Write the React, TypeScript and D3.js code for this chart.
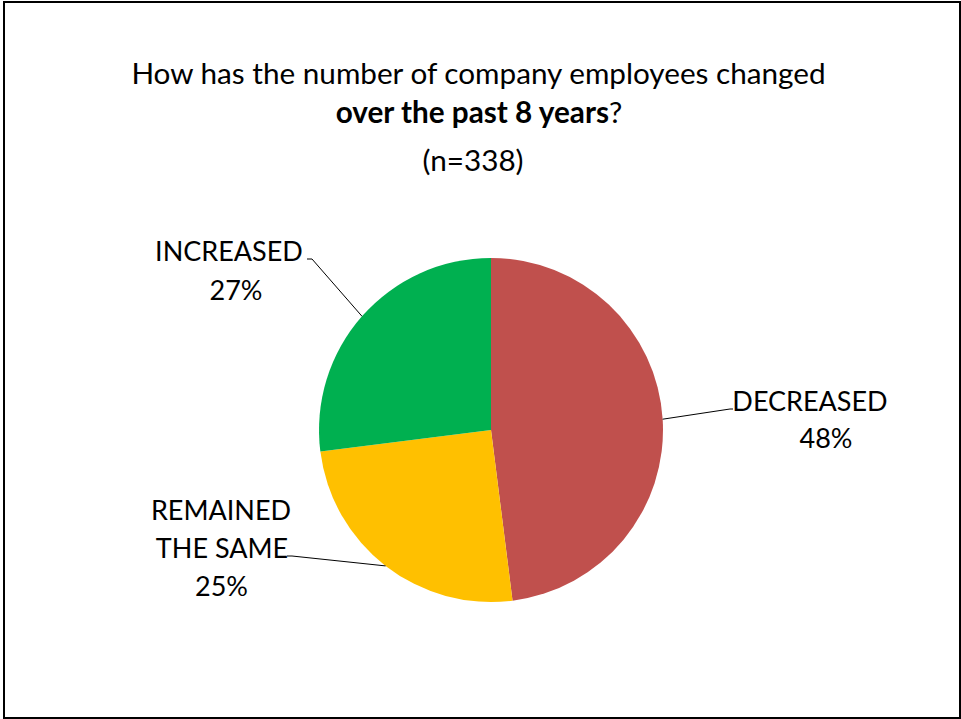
import React from "react";
import * as d3 from "d3";

const categories = ["DECREASED", "REMAINED THE SAME", "INCREASED"];
const values = [48, 25, 27];
const colors = ["#C0504D", "#FFC000", "#00B050"];
const labelLines = [["DECREASED", "48%"], ["REMAINED", "THE SAME", "25%"], ["INCREASED", "27%"]];

// layout (not data): label line anchors and leader elbows
const labelLayout = [
  { lines: [[810, 411], [826, 448]], elbow: [730, 409], end: [733, 409] },
  { lines: [[221, 520], [222, 558], [221.5, 596]], elbow: [292, 556], end: [287, 556] },
  { lines: [[229, 261], [236, 300]], elbow: [312, 259], end: [307, 259] },
];

const W = 961;
const H = 719;
const cx = 491;
const cy = 430;
const R = 172;
const FONT = "Lato, 'Open Sans', sans-serif";

export default function App() {
  const pie = d3.pie<number>().sort(null).value((d) => d).startAngle(0).endAngle(2 * Math.PI);
  const arcs = pie(values);
  const arc = d3.arc<d3.PieArcDatum<number>>().innerRadius(0).outerRadius(R);

  return (
    <svg
      width={W}
      height={H}
      style={{ position: "absolute", left: 0, top: 0, background: "#fff" }}
    >
      <rect x={0} y={0} width={W} height={H} fill="#fff" />
      <rect x={4} y={2} width={956} height={716} fill="none" stroke="#000" strokeWidth={2} />
      <g fontFamily={FONT} fill="#000" textAnchor="middle">
        <text x={478.5} y={84} fontSize={29.7}>
          How has the number of company employees changed
        </text>
        <text x={479} y={123} fontSize={29.7}>
          <tspan fontWeight="bold">over the past 8 years</tspan>
          <tspan>?</tspan>
        </text>
        <text x={473} y={171} fontSize={29.7}>(n=338)</text>
      </g>
      <g transform={`translate(${cx},${cy})`}>
        {arcs.map((a, i) => (
          <path key={categories[i]} d={arc(a) || ""} fill={colors[i]} />
        ))}
      </g>
      {arcs.map((a, i) => {
        const mid = (a.startAngle + a.endAngle) / 2;
        const sx = cx + R * Math.sin(mid);
        const sy = cy - R * Math.cos(mid);
        const L = labelLayout[i];
        return (
          <g key={"lab" + i}>
            <polyline
              points={`${sx},${sy} ${L.elbow[0]},${L.elbow[1]} ${L.end[0]},${L.end[1]}`}
              fill="none"
              stroke="#000"
              strokeWidth={1}
            />
            {labelLines[i].map((t, j) => (
              <text
                key={j}
                x={L.lines[j][0]}
                y={L.lines[j][1]}
                fontFamily={FONT}
                fontSize={27}
                textAnchor="middle"
                fill="#000"
              >
                {t}
              </text>
            ))}
          </g>
        );
      })}
    </svg>
  );
}
